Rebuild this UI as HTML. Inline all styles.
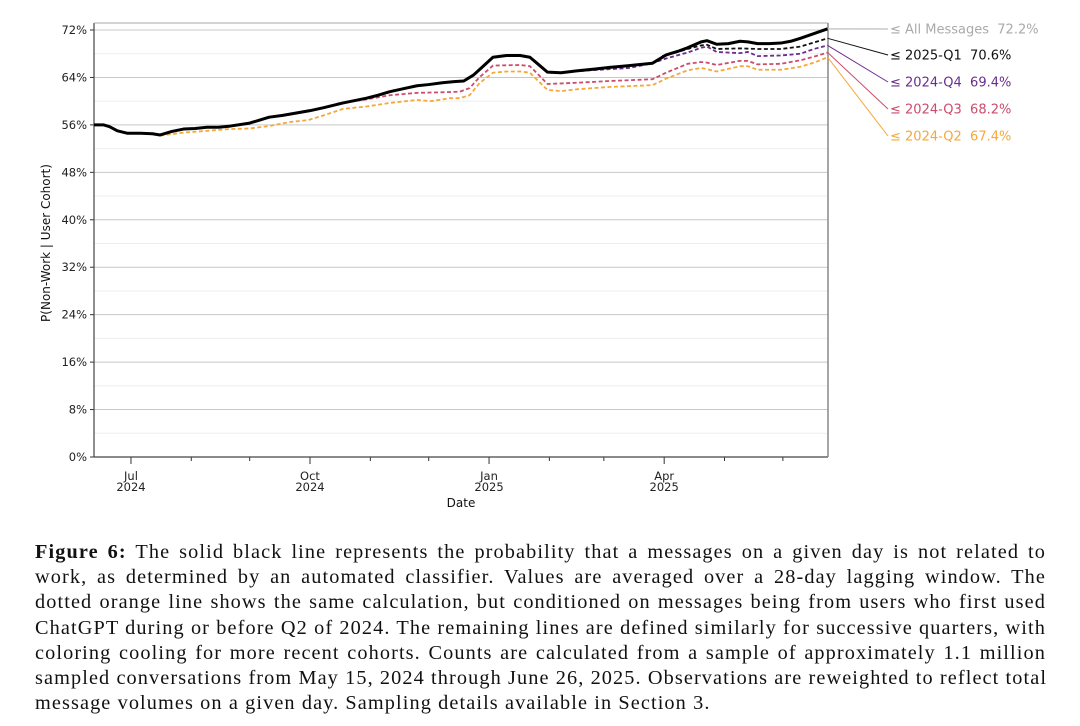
<!DOCTYPE html>
<html><head><meta charset="utf-8">
<style>
body{margin:0;background:#fff;width:1080px;height:726px;overflow:hidden;position:relative;font-family:"DejaVu Sans","Liberation Sans",sans-serif}
#cap{position:absolute;left:35px;top:540px;width:1011px;font-family:"Liberation Serif",serif;font-size:20.3px;letter-spacing:1.1px;line-height:25.2px;color:#111}
#cap div{text-align:justify;text-align-last:justify;white-space:nowrap}
#cap div.last{text-align-last:left}
</style></head><body>
<svg id="chart" width="1080" height="530" style="position:absolute;left:0;top:0" xmlns="http://www.w3.org/2000/svg"></svg>
<div id="cap">
<div><b>Figure 6:</b> The solid black line represents the probability that a messages on a given day is not related to</div>
<div>work, as determined by an automated classifier. Values are averaged over a 28-day lagging window. The</div>
<div>dotted orange line shows the same calculation, but conditioned on messages being from users who first used</div>
<div>ChatGPT during or before Q2 of 2024. The remaining lines are defined similarly for successive quarters, with</div>
<div>coloring cooling for more recent cohorts. Counts are calculated from a sample of approximately 1.1 million</div>
<div>sampled conversations from May 15, 2024 through June 26, 2025. Observations are reweighted to reflect total</div>
<div class="last">message volumes on a given day. Sampling details available in Section 3.</div>
</div>
<script>
// day index from 2024-06-12
const allDays=[0,5,8,12,17,24,30,34,40,46,52,58,64,70,80,90,97,104,111,118,128,134,140,146,152,159,166,172,179,185,190,195,199,205,212,219,224,228,233,240,248,257,265,275,287,294,300,305,312,315,320,326,332,336,341,347,353,358,363,370,377];
const allVals=[56,56,55.7,55,54.6,54.6,54.5,54.3,54.9,55.3,55.4,55.6,55.6,55.8,56.3,57.3,57.6,58,58.4,58.9,59.7,60.1,60.5,61,61.6,62.1,62.6,62.8,63.1,63.3,63.4,64.4,65.6,67.4,67.7,67.7,67.4,66.3,64.9,64.8,65.1,65.4,65.7,66.0,66.4,67.8,68.4,69.0,70.0,70.2,69.6,69.7,70.1,70.0,69.7,69.7,69.8,70.1,70.6,71.4,72.2];
const q2Days=[34,46,58,70,80,90,101,110,118,128,140,152,166,173,183,188,193,198,205,212,219,224,228,233,240,248,265,287,294,305,312,315,320,332,336,341,353,363,370,377];
const q2Vals=[54.2,54.7,55.0,55.3,55.4,55.8,56.5,56.8,57.6,58.7,59.1,59.7,60.2,60.0,60.5,60.5,61.0,63.0,64.8,65.0,65.0,64.8,63.5,61.9,61.7,62.0,62.4,62.7,63.8,65.2,65.6,65.4,65.0,65.9,65.9,65.3,65.3,65.8,66.5,67.4];
const q3Days=[125,140,152,166,179,188,193,198,205,219,224,228,233,248,265,287,294,305,312,315,320,332,336,341,353,363,370,377];
const q3Vals=[59.6,60.3,61.0,61.4,61.5,61.6,62.2,64.0,66.0,66.1,65.9,64.6,62.9,63.1,63.4,63.7,64.8,66.3,66.6,66.5,66.1,66.8,66.8,66.2,66.3,66.9,67.5,68.2];
const q4Days=[250,265,275,287,294,305,312,315,320,332,336,341,353,363,370,377];
const q4Vals=[65.1,65.4,65.6,66.4,67.2,68.2,69.0,69.2,68.3,68.1,68.3,67.6,67.7,68.0,68.8,69.4];
const q1Days=[292,300,305,312,315,320,332,341,353,363,370,377];
const q1Vals=[67.6,68.3,68.8,69.4,69.5,68.8,68.9,68.8,68.8,69.2,69.9,70.6];
const yTicks=[0,8,16,24,32,40,48,56,64,72];
const xTickDays=[19,111,203,293];
const xTickLabels=[["Jul","2024"],["Oct","2024"],["Jan","2025"],["Apr","2025"]];
const minorDays=[50,80,142,172,234,262,324,354];
const seriesNames=["All Messages","2025-Q1","2024-Q4","2024-Q3","2024-Q2"];

const svg=document.getElementById('chart');const NS='http://www.w3.org/2000/svg';
const L=94,R=828,T=23,B=457;
const x=d=>L+d*1.946;
const y=v=>457-v*(427/72);
function mk(t,a,p){const e=document.createElementNS(NS,t);for(const k in a)e.setAttribute(k,a[k]);(p||svg).appendChild(e);return e;}
for(let v=4;v<72;v+=8){const g=mk('line',{x1:L,x2:R,y1:y(v),y2:y(v),stroke:'#eeeeee','stroke-width':1});}
yTicks.forEach(v=>{
 const g=mk('line',{x1:L,x2:R,y1:y(v),y2:y(v),stroke:'#c8c8c8','stroke-width':1});
 
 mk('line',{x1:L-4,x2:L,y1:y(v),y2:y(v),stroke:'#333'});
 const t=mk('text',{x:L-7,y:y(v)+4,'text-anchor':'end','font-size':11.5,fill:'#222'});t.textContent=v+'%';
 
});
minorDays.forEach(d=>mk('line',{x1:x(d),x2:x(d),y1:B,y2:B+4,stroke:'#333'}));
xTickDays.forEach((d,i)=>{
 mk('line',{x1:x(d),x2:x(d),y1:B,y2:B+7,stroke:'#333'});
 const t=mk('text',{x:x(d),y:480,'text-anchor':'middle','font-size':11.5,fill:'#222'});t.textContent=xTickLabels[i][0];
 
 const t2=mk('text',{x:x(d),y:491,'text-anchor':'middle','font-size':11.5,fill:'#222'});t2.textContent=xTickLabels[i][1];
 
});
mk('line',{x1:L,x2:L,y1:T,y2:B,stroke:'#444','stroke-width':1.2});
mk('line',{x1:L,x2:R,y1:B,y2:B,stroke:'#444','stroke-width':1.2});
mk('line',{x1:R,x2:R,y1:T,y2:B,stroke:'#888','stroke-width':1.5});
mk('line',{x1:L,x2:R,y1:T,y2:T,stroke:'#aaa','stroke-width':1});
const xt=mk('text',{x:461,y:507,'text-anchor':'middle','font-size':12,fill:'#111'});xt.textContent='Date';

const yt=mk('text',{x:0,y:0,transform:'translate(50,243) rotate(-90)','text-anchor':'middle','font-size':12,fill:'#111'});yt.textContent='P(Non-Work | User Cohort)';


const series=[
 {d:q2Days,v:q2Vals,c:'#f5a83a',dash:'4,2.5',w:1.8,name:'series-2024-q2'},
 {d:q3Days,v:q3Vals,c:'#cc4c6c',dash:'4,2.5',w:1.8,name:'series-2024-q3'},
 {d:q4Days,v:q4Vals,c:'#6b2d8c',dash:'4,2.5',w:1.8,name:'series-2024-q4'},
 {d:q1Days,v:q1Vals,c:'#111111',dash:'4,2.5',w:1.8,name:'series-2025-q1'},
 {d:allDays,v:allVals,c:'#000',dash:'',w:3,name:'series-all-messages'}];
const labelCols=['#aaaaaa','#111','#6b2d8c','#cc4c6c','#f5a83a'];
series.forEach(s=>{
 const p=mk('polyline',{points:s.d.map((d,i)=>x(d)+','+y(s.v[i])).join(' '),fill:'none',stroke:s.c,'stroke-width':s.w,'stroke-dasharray':s.dash,'stroke-linejoin':'round'});
 
});
const lastVals=[allVals,q1Vals,q4Vals,q3Vals,q2Vals].map(a=>a[a.length-1]);
const lastDays=[allDays,q1Days,q4Days,q3Days,q2Days].map(a=>a[a.length-1]);
const lys=[29,55,82,109,136];
seriesNames.forEach((n,i)=>{
 mk('line',{x1:x(lastDays[i]),y1:y(lastVals[i]),x2:888,y2:lys[i],stroke:i==0?'#c8c8c8':labelCols[i],'stroke-width':i==0?1.5:1});
 const t=mk('text',{x:890,y:lys[i]+4.5,'font-size':13,fill:labelCols[i]});
 t.textContent='≤ '+n+'  '+lastVals[i].toFixed(1)+'%';
 t.setAttribute('xml:space','preserve');t.style.whiteSpace='pre';
 
});
</script>
</body></html>
